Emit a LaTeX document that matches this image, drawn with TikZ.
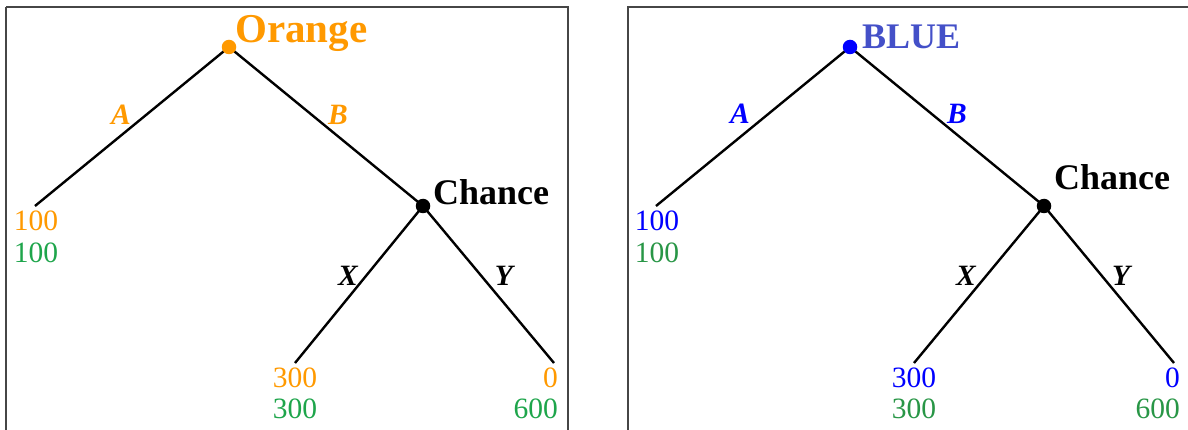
\documentclass[tikz,border=0pt]{standalone}
\usepackage{fontspec}
\setmainfont{Liberation Serif}
\definecolor{org}{RGB}{255,153,0}
\definecolor{grnL}{RGB}{30,165,75}
\definecolor{grnR}{RGB}{40,150,70}
\definecolor{blu}{RGB}{0,0,255}
\definecolor{bluL}{RGB}{68,80,200}
\definecolor{frm}{RGB}{70,70,70}
\tikzset{
  branch/.style={line width=2.4pt, black},
  dotnode/.style={circle, fill, inner sep=0pt, minimum size=14.5pt},
  frame/.style={line width=1.2pt, frm},
  num/.style={inner sep=0pt, font=\fontsize{29.5}{34}\selectfont},
  lab/.style={inner sep=0pt, font=\fontsize{29.5}{34}\selectfont\bfseries\itshape},
  player/.style={inner sep=0pt, font=\fontsize{#1}{#1}\selectfont\bfseries},
}
\begin{document}
\begin{tikzpicture}[x=1pt,y=-1pt]
\useasboundingbox (0,0) rectangle (1188,430);
\begin{scope}
\clip (0,0) rectangle (1188,430);
\draw[frame] (6,7) -- (568,7) -- (568,440);
\draw[frame] (6,7) -- (6,440);
\draw[frame] (628,440) -- (628,7) -- (1200,7);
\end{scope}

% ---------- left tree ----------
\coordinate (r1) at (229,47);
\coordinate (c1) at (423,206);
\coordinate (la1) at (35,206);
\coordinate (lx1) at (295,363);
\coordinate (ly1) at (554,363);
\draw[branch] (r1) -- (la1);
\draw[branch] (r1) -- (c1);
\draw[branch] (c1) -- (lx1);
\draw[branch] (c1) -- (ly1);
\node[dotnode, org] (r1dot) at (r1) {};
\node[dotnode, black] (c1dot) at (c1) {};
\node[player=41, org, anchor=base west] (p1) at (235,43) {Orange};
\node[player=36, black, anchor=base west] (ch1) at (433,205) {Chance};
\node[lab, org, anchor=base] (a1) at (121,125) {A};
\node[lab, org, anchor=base] (b1) at (338,125) {B};
\node[lab, black, anchor=base] (x1) at (348,285) {X};
\node[lab, black, anchor=base] (y1) at (504,285) {Y};
\node[num, org, anchor=base] (n1a) at (36,231) {100};
\node[num, grnL, anchor=base] (n1b) at (36,263) {100};
\node[num, org, anchor=base] (n1c) at (295,387) {300};
\node[num, grnL, anchor=base] (n1d) at (295,418) {300};
\node[num, org, anchor=base east] (n1e) at (558,387) {0};
\node[num, grnL, anchor=base east] (n1f) at (558,418) {600};

% ---------- right tree ----------
\coordinate (r2) at (850,47);
\coordinate (c2) at (1044,206);
\coordinate (la2) at (656,206);
\coordinate (lx2) at (914,363);
\coordinate (ly2) at (1174,363);
\draw[branch] (r2) -- (la2);
\draw[branch] (r2) -- (c2);
\draw[branch] (c2) -- (lx2);
\draw[branch] (c2) -- (ly2);
\node[dotnode, blu] (r2dot) at (r2) {};
\node[dotnode, black] (c2dot) at (c2) {};
\node[player=36, bluL, anchor=base west] (p2) at (862,49) {BLUE};
\node[player=36, black, anchor=base west] (ch2) at (1054,190) {Chance};
\node[lab, blu, anchor=base] (a2) at (740,124) {A};
\node[lab, blu, anchor=base] (b2) at (957,124) {B};
\node[lab, black, anchor=base] (x2) at (966,285) {X};
\node[lab, black, anchor=base] (y2) at (1121,285) {Y};
\node[num, blu, anchor=base] (n2a) at (657,231) {100};
\node[num, grnR, anchor=base] (n2b) at (657,263) {100};
\node[num, blu, anchor=base] (n2c) at (914,387) {300};
\node[num, grnR, anchor=base] (n2d) at (914,418) {300};
\node[num, blu, anchor=base east] (n2e) at (1180,387) {0};
\node[num, grnR, anchor=base east] (n2f) at (1180,418) {600};
\end{tikzpicture}
\end{document}
